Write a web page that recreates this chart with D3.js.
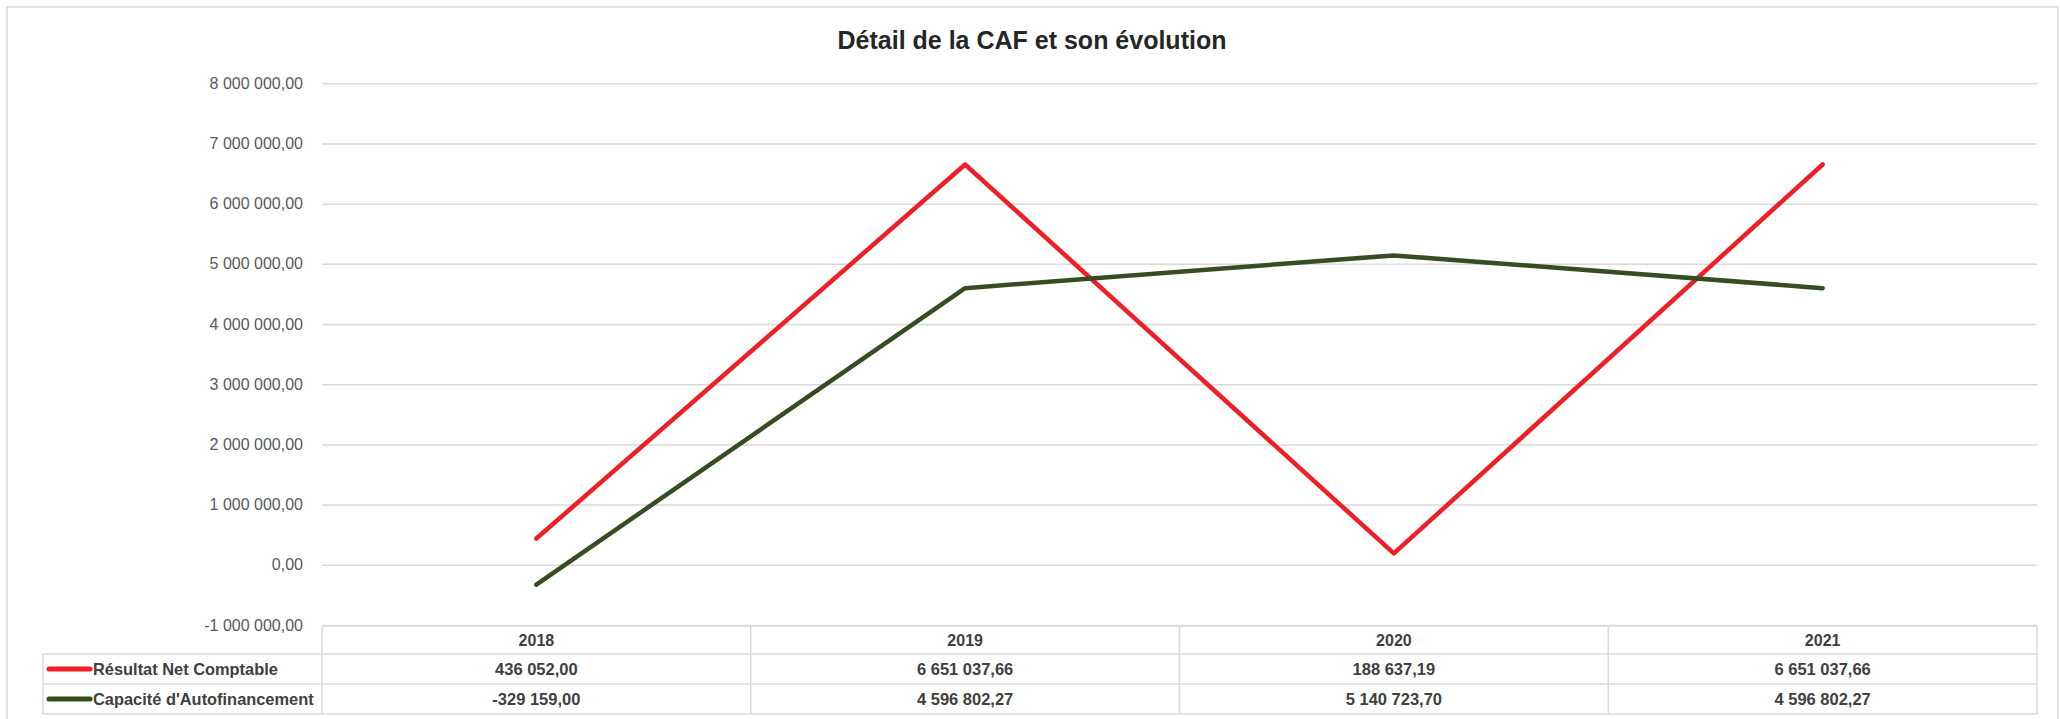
<!DOCTYPE html>
<html>
<head>
<meta charset="utf-8">
<script src="https://cdn.jsdelivr.net/npm/d3@7"></script>
<style>
  html, body { margin: 0; padding: 0; background: #fff; }
  svg { display: block; }
</style>
</head>
<body>
<svg id="chart" width="2060" height="719"></svg>
<script>
// ---- data ----
const title = "Détail de la CAF et son évolution";
const categories = ["2018", "2019", "2020", "2021"];
const seriesNames = ["Résultat Net Comptable", "Capacité d'Autofinancement"];
const resultatNet = [436052.00, 6651037.66, 188637.19, 6651037.66];
const capaciteAutofin = [-329159.00, 4596802.27, 5140723.70, 4596802.27];
const yTickValues = [-1000000, 0, 1000000, 2000000, 3000000, 4000000, 5000000, 6000000, 7000000, 8000000];
const seriesColors = ["#ee1f26", "#344e22"];

// ---- layout ----
const W = 2060, H = 719;
const plotLeft = 322, plotRight = 2037, plotTop = 83.3, plotBottom = 625;
const legendLeft = 43;
const rowH = 30;
const font = "'Liberation Sans', Arial, sans-serif";

const fr = d3.formatLocale({decimal: ",", thousands: " ", grouping: [3], currency: ["", "€"], minus: "-"});
const fmt = fr.format(",.2f");

const svg = d3.select("#chart");

// outer chart border
svg.append("rect")
  .attr("x", 7).attr("y", 7).attr("width", 2051).attr("height", 730)
  .attr("fill", "#fff").attr("stroke", "#d9d9d9").attr("stroke-width", 1.5);

// title
svg.append("text")
  .attr("x", 1032).attr("y", 49)
  .attr("text-anchor", "middle")
  .attr("font-family", font).attr("font-weight", "bold").attr("font-size", 25)
  .attr("fill", "#262626")
  .text(title);

const x = d3.scaleBand().domain(categories).range([plotLeft, plotRight]).padding(0);
const y = d3.scaleLinear().domain([-1000000, 8000000]).range([plotBottom, plotTop]);

// y axis + gridlines
const yAxis = d3.axisLeft(y)
  .tickValues(yTickValues)
  .tickSize(-(plotRight - plotLeft))
  .tickPadding(19)
  .tickFormat(fmt);

const gy = svg.append("g").attr("transform", `translate(${plotLeft},0)`).call(yAxis);
gy.select(".domain").remove();
gy.selectAll(".tick line").attr("stroke", "#d9d9d9").attr("stroke-width", 1.5);
gy.selectAll(".tick text")
  .attr("font-family", font).attr("font-size", 16).attr("fill", "#595959");

// lines
const series = [resultatNet, capaciteAutofin];
const line = d3.line()
  .x((d, i) => x(categories[i]) + x.bandwidth() / 2)
  .y(d => y(d));

series.forEach((s, k) => {
  svg.append("path")
    .datum(s)
    .attr("d", line)
    .attr("fill", "none")
    .attr("stroke", seriesColors[k])
    .attr("stroke-width", 4.5)
    .attr("stroke-linecap", "round")
    .attr("stroke-linejoin", "round");
});

// ---- data table ----
const tbl = svg.append("g");
const gridC = "#d9d9d9";
const t0 = plotBottom + 1;        // header top
const rowsY = [t0, t0 + 28, t0 + 28 + rowH, t0 + 28 + 2 * rowH];

// horizontal lines
tbl.append("line").attr("x1", plotLeft).attr("x2", plotRight).attr("y1", rowsY[0]).attr("y2", rowsY[0]);
for (let i = 1; i < rowsY.length; i++) {
  tbl.append("line").attr("x1", legendLeft).attr("x2", plotRight).attr("y1", rowsY[i]).attr("y2", rowsY[i]);
}
// vertical lines
tbl.append("line").attr("x1", legendLeft).attr("x2", legendLeft).attr("y1", rowsY[1]).attr("y2", rowsY[3]);
const xs = [plotLeft].concat(categories.map(c => x(c) + x.bandwidth()));
xs.forEach(xx => {
  tbl.append("line").attr("x1", xx).attr("x2", xx).attr("y1", rowsY[0]).attr("y2", rowsY[3]);
});
tbl.selectAll("line").attr("stroke", gridC).attr("stroke-width", 1.5);

// header
tbl.selectAll("text.hdr").data(categories).enter().append("text")
  .attr("class", "hdr")
  .attr("x", d => x(d) + x.bandwidth() / 2)
  .attr("y", (rowsY[0] + rowsY[1]) / 2)
  .attr("dy", "0.35em")
  .attr("text-anchor", "middle")
  .attr("font-family", font).attr("font-weight", "bold").attr("font-size", 16)
  .attr("fill", "#404040")
  .text(d => d);

// rows
series.forEach((s, k) => {
  const cy = (rowsY[k + 1] + rowsY[k + 2]) / 2;
  tbl.append("line")
    .attr("x1", 49).attr("x2", 90).attr("y1", cy).attr("y2", cy)
    .attr("stroke", seriesColors[k]).attr("stroke-width", 5).attr("stroke-linecap", "round");
  tbl.append("text")
    .attr("x", 93).attr("y", cy).attr("dy", "0.35em")
    .attr("font-family", font).attr("font-weight", "bold").attr("font-size", 16.4)
    .attr("fill", "#404040")
    .text(seriesNames[k]);
  s.forEach((v, i) => {
    tbl.append("text")
      .attr("x", x(categories[i]) + x.bandwidth() / 2)
      .attr("y", cy).attr("dy", "0.35em")
      .attr("text-anchor", "middle")
      .attr("font-family", font).attr("font-weight", "bold").attr("font-size", 16.5)
      .attr("fill", "#404040")
      .text(fmt(v));
  });
});
</script>
</body>
</html>
